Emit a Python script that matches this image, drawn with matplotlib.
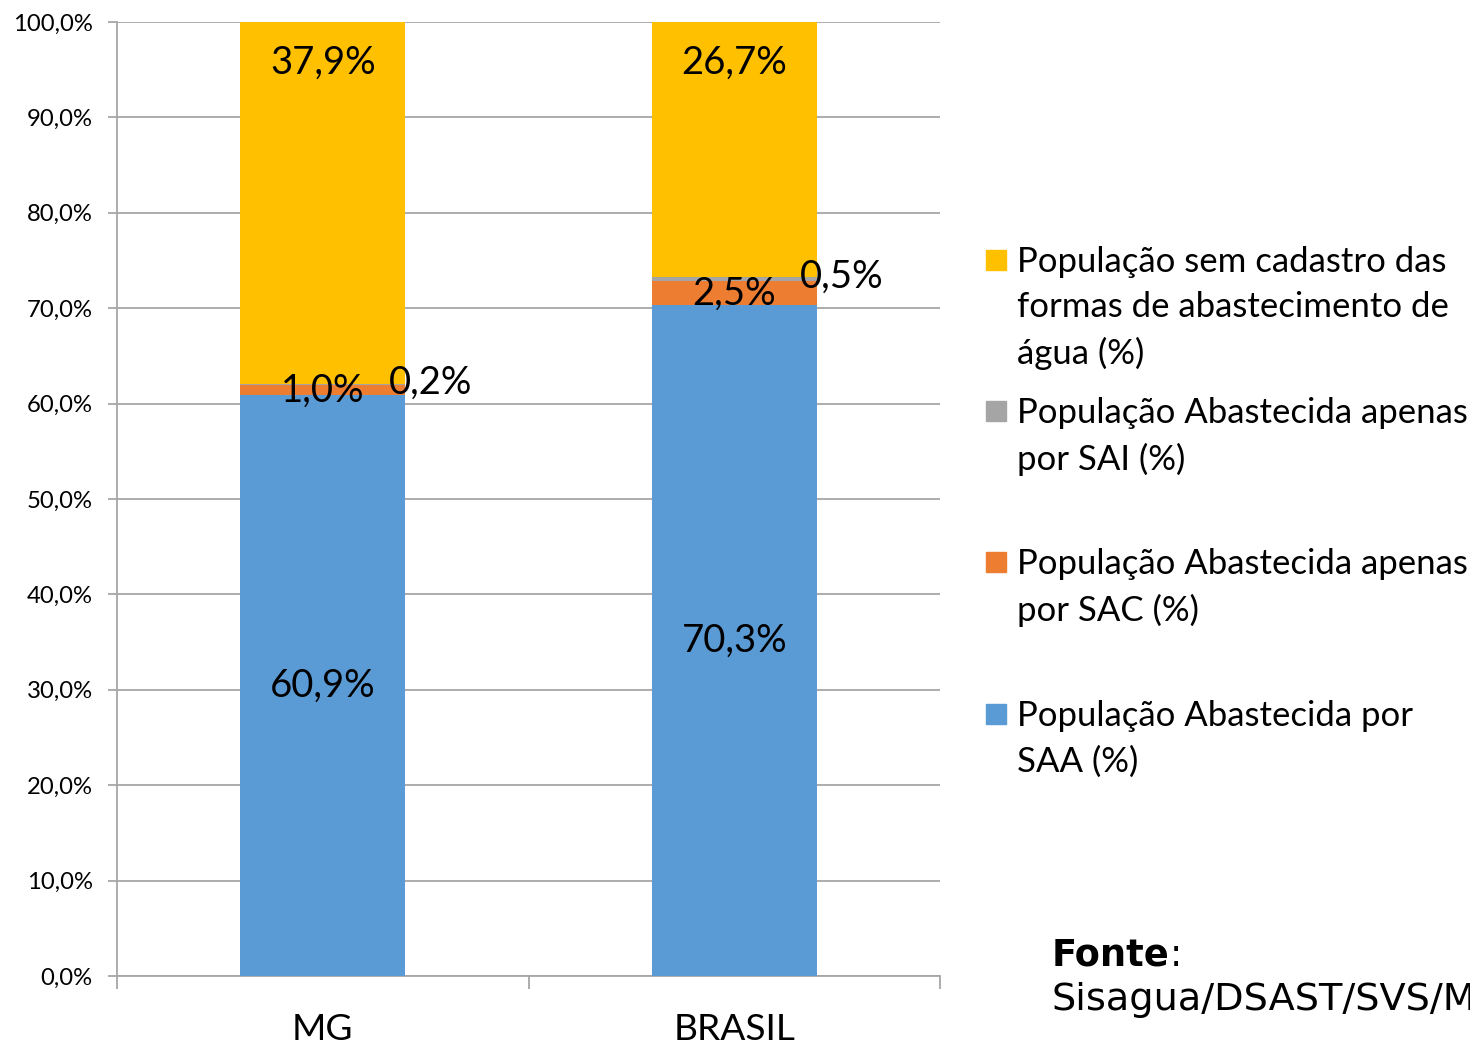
import matplotlib
matplotlib.use("Agg")
import matplotlib.pyplot as plt
from matplotlib.patches import Rectangle
from matplotlib.ticker import FuncFormatter

# data
categories = ["MG", "BRASIL"]
saa = [60.9, 70.3]   # População Abastecida por SAA
sac = [1.0, 2.5]     # apenas por SAC
sai = [0.2, 0.5]     # apenas por SAI
sem = [37.9, 26.7]   # sem cadastro
yticks = [0, 10, 20, 30, 40, 50, 60, 70, 80, 90, 100]

legend_labels = [
    "População sem cadastro das\nformas de abastecimento de\nágua (%)",
    "População Abastecida apenas\npor SAI (%)",
    "População Abastecida apenas\npor SAC (%)",
    "População Abastecida por\nSAA (%)",
]

c_saa, c_sac, c_sai, c_sem = "#5B9BD5", "#ED7D31", "#A5A5A5", "#FFC000"
grid_c = "#a6a6a6"
font = "Lato"

plt.rcParams['font.family'] = [font, 'DejaVu Sans']

fig = plt.figure(figsize=(14.7, 10.46), dpi=100)
ax = fig.add_axes([117/1470, 1-976/1046, (940-117)/1470, (976-22)/1046])

x = list(range(len(categories)))
w = 0.4
b1 = saa
b2 = [a + b for a, b in zip(b1, sac)]
b3 = [a + b for a, b in zip(b2, sai)]
ax.bar(x, saa, w, color=c_saa, zorder=3)
ax.bar(x, sac, w, bottom=b1, color=c_sac, zorder=3)
ax.bar(x, sai, w, bottom=b2, color=c_sai, zorder=3)
ax.bar(x, sem, w, bottom=b3, color=c_sem, zorder=3)

lab = lambda v: f"{v:.1f}%".replace(".", ",")
fs = 27.5
for i in x:
    ax.text(i, saa[i] / 2, lab(saa[i]), ha="center", va="center", fontsize=fs, zorder=5)
    ax.text(i, b1[i] + sac[i] / 2, lab(sac[i]), ha="center", va="center", fontsize=fs, zorder=5)
    ax.text(i + 0.262, b2[i] + sai[i] / 2 + 0.2, lab(sai[i]), ha="center", va="center", fontsize=fs, zorder=5)
    ax.annotate(lab(sem[i]), (i, 100), xytext=(0, -29), textcoords="offset points",
                ha="center", va="center", fontsize=fs, zorder=5)

ax.set_xlim(-0.5, 1.5)
ax.set_ylim(0, 100)
ax.set_yticks(yticks)
ax.yaxis.set_major_formatter(FuncFormatter(lambda v, p: lab(v)))
ax.grid(axis="y", color=grid_c, linewidth=1.3, zorder=0)
ax.set_axisbelow(True)
for s in ["top", "right"]:
    ax.spines[s].set_visible(False)
for s in ["left", "bottom"]:
    ax.spines[s].set_color(grid_c)
    ax.spines[s].set_linewidth(1.3)

ax.tick_params(axis="y", length=6.5, color=grid_c, width=1.3, pad=11, labelsize=17.2)
ax.set_xticks(x)
ax.set_xticklabels(categories, fontsize=26.7)
ax.set_xticks([-0.5, 0.5, 1.5], minor=True)
ax.tick_params(axis="x", which="major", length=0, pad=27)
ax.tick_params(axis="x", which="minor", length=9, color=grid_c, width=1.3)

# legend drawn by hand (Excel spacing)
colors = [c_sem, c_sai, c_sac, c_saa]
ys = [260, 411, 562, 714]
for lbl, c, yy in zip(legend_labels, colors, ys):
    fig.patches.append(Rectangle((986/1470, 1-(yy+10)/1046), 20/1470, 20/1046,
                                 transform=fig.transFigure, color=c))
    fig.text(1017/1470, 1-(yy-14)/1046, lbl, ha="left", va="top", fontsize=25,
             linespacing=1.5)

# source note, cut at the right edge like the original
fig.text(1052/1470, 1-955/1046, "Fonte", fontsize=26.5, fontweight="bold",
         family="DejaVu Sans", va="center")
fig.text(1170/1470, 1-955/1046, ":", fontsize=26.5, family="DejaVu Sans", va="center")
fig.text(1052/1470, 1-1000/1046, "Sisagua/DSAST/SVS/MS", fontsize=27.5,
         family="DejaVu Sans", va="center")

fig.savefig("out.png", dpi=100)
